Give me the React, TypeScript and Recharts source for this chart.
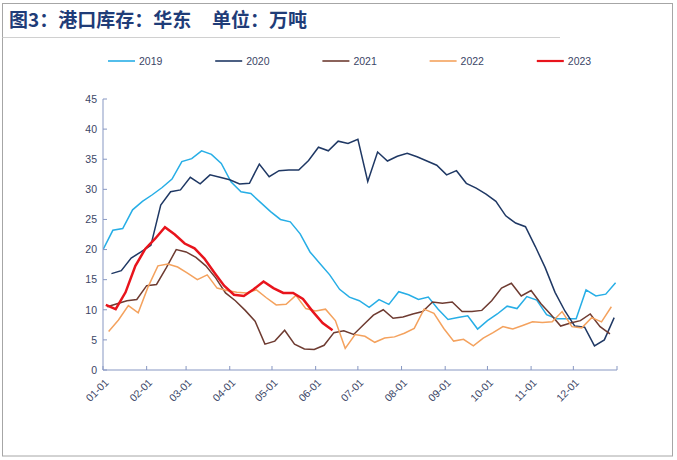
import React from 'react';
import { LineChart, Line, XAxis, YAxis } from 'recharts';

// ---- data ----
const YEARS = ['2019', '2020', '2021', '2022', '2023'];
const COLORS = ['#27aee6', '#1f3864', '#6e3b31', '#f4a25e', '#e8141c'];
// day-of-year of each year's first weekly reading
const START_DAY = [0, 6, 3, 4, 2];

const v2019 = [20.0, 23.2, 23.5, 26.6, 28.0, 29.1, 30.3, 31.7, 34.6, 35.1, 36.4, 35.8, 34.3, 31.2, 29.6, 29.3, 27.8, 26.3, 25.0, 24.6, 22.6, 19.6, 17.7, 15.8, 13.4, 12.1, 11.5, 10.4, 11.7, 10.9, 13.0, 12.5, 11.7, 12.1, 10.1, 8.4, 8.7, 9.0, 6.8, 8.2, 9.3, 10.6, 10.2, 12.2, 11.6, 9.2, 8.5, 8.5, 8.5, 13.3, 12.3, 12.6, 14.5];
const v2020 = [16.0, 16.5, 18.6, 19.6, 20.7, 27.4, 29.6, 29.9, 32.0, 30.9, 32.4, 32.0, 31.6, 30.9, 31.0, 34.2, 32.1, 33.1, 33.2, 33.2, 34.8, 37.0, 36.4, 38.0, 37.6, 38.3, 31.3, 36.2, 34.7, 35.5, 36.0, 35.4, 34.7, 34.0, 32.4, 33.1, 31.0, 30.2, 29.2, 28.0, 25.6, 24.4, 23.8, 20.5, 17.0, 12.9, 9.8, 7.3, 7.1, 4.0, 5.0, 8.7];
const v2021 = [10.5, 11.0, 11.5, 11.7, 14.0, 14.2, 17.0, 20.0, 19.6, 18.7, 17.3, 15.3, 12.8, 11.5, 9.9, 8.1, 4.3, 4.8, 6.6, 4.3, 3.5, 3.4, 4.1, 6.2, 6.5, 5.9, 7.5, 9.1, 10.0, 8.6, 8.8, 9.3, 9.7, 11.3, 11.1, 11.3, 9.7, 9.7, 9.9, 11.5, 13.6, 14.4, 12.3, 13.2, 11.0, 9.2, 7.3, 7.8, 8.2, 9.3, 7.2, 6.0];
const v2022 = [6.4, 8.3, 10.7, 9.5, 13.8, 17.3, 17.6, 17.1, 16.1, 15.0, 15.8, 13.6, 13.2, 12.9, 12.8, 13.3, 12.0, 10.8, 10.9, 12.4, 10.2, 9.8, 10.1, 8.2, 3.6, 5.9, 5.6, 4.6, 5.3, 5.5, 6.1, 6.9, 10.1, 9.4, 6.9, 4.8, 5.1, 4.0, 5.3, 6.2, 7.2, 6.8, 7.4, 8.0, 7.9, 8.0, 9.7, 7.2, 7.0, 8.7, 8.0, 10.5];
const v2023 = [10.8, 10.1, 12.9, 17.3, 20.1, 21.8, 23.7, 22.5, 21.0, 20.2, 18.5, 16.2, 14.0, 12.5, 12.3, 13.4, 14.7, 13.6, 12.8, 12.8, 11.8, 9.7, 7.8, 6.6];
const VALUES = [v2019, v2020, v2021, v2022, v2023];

const MONTH_TICKS = [0, 31, 59, 90, 120, 151, 181, 212, 243, 273, 304, 334, 365];
const MONTH_LABELS = ['01-01', '02-01', '03-01', '04-01', '05-01', '06-01', '07-01', '08-01', '09-01', '10-01', '11-01', '12-01', ''];
const Y_TICKS = [0, 5, 10, 15, 20, 25, 30, 35, 40, 45];

const TITLE_LEFT = '图3：港口库存：华东';
const TITLE_RIGHT = '单位：万吨';

// table built for the library (weekly readings)
const SERIES = YEARS.map((year, k) => ({
  year,
  color: COLORS[k],
  data: VALUES[k].map((value, i) => ({ day: START_DAY[k] + 7 * i, value })),
}));

const AXIS_COLOR = '#8797c2';
const TEXT_COLOR = '#3b4666';
const FONT = '"Liberation Sans", Arial, sans-serif';

const XTick = (props: any) => {
  const { x, y, payload } = props;
  const idx = MONTH_TICKS.indexOf(payload.value);
  const label = MONTH_LABELS[idx] || '';
  const axisY = y - 6;
  const tx = x + 1;
  const ty = axisY + 8;
  return (
    <g>
      <line x1={x} x2={x} y1={axisY} y2={axisY - 4} stroke={AXIS_COLOR} strokeWidth={1} />
      {label ? (
        <text
          x={tx}
          y={ty}
          dy="0.72em"
          transform={`rotate(-45 ${tx} ${ty})`}
          textAnchor="end"
          fontSize={10.5}
          fontFamily={FONT}
          fill={TEXT_COLOR}
        >
          {label}
        </text>
      ) : null}
    </g>
  );
};

const YTick = (props: any) => {
  const { x, y, payload } = props;
  return (
    <g>
      <line x1={x + 6} x2={x + 10} y1={y} y2={y} stroke={AXIS_COLOR} strokeWidth={1} />
      <text x={x} y={y} dy="0.36em" textAnchor="end" fontSize={10.5} fontFamily={FONT} fill={TEXT_COLOR}>
        {payload.value}
      </text>
    </g>
  );
};

const Overlay = () => (
  <svg width={677} height={460} style={{ position: 'absolute', left: 0, top: 0, pointerEvents: 'none' }}>
    <rect x={2.5} y={3.5} width={670} height={452.5} fill="none" stroke="#a6a6a6" strokeWidth={1} />
    <line x1={2.5} x2={560} y1={37.5} y2={37.5} stroke="#d0d0d0" strokeWidth={1} />
    <text x={9} y={27} fontSize={19} fontWeight="bold" fontFamily='"Noto Sans CJK SC", sans-serif' fill="#1f3c78">
      {TITLE_LEFT}
    </text>
    <text x={212} y={27} fontSize={19} fontWeight="bold" fontFamily='"Noto Sans CJK SC", sans-serif' fill="#1f3c78">
      {TITLE_RIGHT}
    </text>
    {SERIES.map((s, i) => {
      const lx = 108 + i * 107.2;
      return (
        <g key={s.year}>
          <line x1={lx} x2={lx + 27} y1={61} y2={61} stroke={s.color} strokeWidth={i === 4 ? 2.2 : 1.6} />
          <text x={lx + 31} y={61} dy="0.36em" fontSize={10.5} fontFamily={FONT} fill={TEXT_COLOR}>
            {s.year}
          </text>
        </g>
      );
    })}
  </svg>
);

export default function App() {
  return (
    <div style={{ position: 'absolute', left: 0, top: 0, width: 677, height: 460, background: '#fff' }}>
      <LineChart width={677} height={460} margin={{ top: 99, right: 60, bottom: 60, left: 0 }}>
        <XAxis
          type="number"
          dataKey="day"
          domain={[0, 365]}
          ticks={MONTH_TICKS}
          interval={0}
          height={30}
          tickSize={0}
          tickMargin={6}
          axisLine={{ stroke: AXIS_COLOR, strokeWidth: 1 }}
          tickLine={false}
          tick={(p: any) => <XTick {...p} />}
          allowDataOverflow
        />
        <YAxis
          type="number"
          domain={[0, 45]}
          ticks={Y_TICKS}
          interval={0}
          width={103}
          tickSize={0}
          tickMargin={6}
          axisLine={{ stroke: AXIS_COLOR, strokeWidth: 1 }}
          tickLine={false}
          tick={(p: any) => <YTick {...p} />}
          allowDataOverflow
        />
        {SERIES.map((s, i) => (
          <Line
            key={s.year}
            data={s.data}
            dataKey="value"
            name={s.year}
            type="linear"
            stroke={s.color}
            strokeWidth={i === 4 ? 2.5 : 1.5}
            dot={false}
            activeDot={false}
            isAnimationActive={false}
          />
        ))}
      </LineChart>
      <Overlay />
    </div>
  );
}
